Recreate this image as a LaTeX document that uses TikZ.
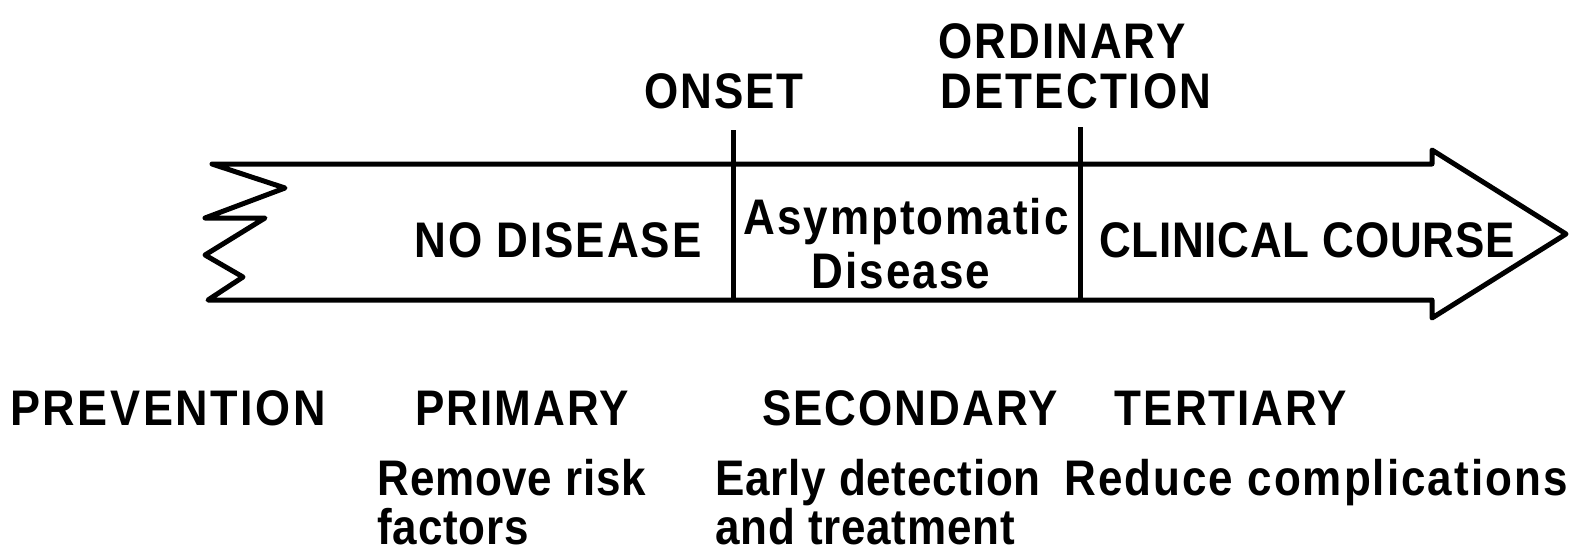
\documentclass[tikz,border=0pt]{standalone}
\usepackage{fontspec}
\newfontfamily\lab{Liberation Sans}[FakeStretch=0.88,LetterSpace=4]
\newfontfamily\labl{Liberation Sans}[FakeStretch=0.88,LetterSpace=1.5]
\newfontfamily\labw{Liberation Sans}[FakeStretch=0.9,LetterSpace=5]
\begin{document}
\begin{tikzpicture}[x=1pt,y=-1pt,line width=5pt,
  lbl/.style={font=\lab\bfseries\fontsize{50}{60}\selectfont,inner sep=0pt,anchor=base},
  lblw/.style={lbl,font=\labl\bfseries\fontsize{50}{60}\selectfont,anchor=base west}]
\useasboundingbox (0,0) rectangle (1572,552);
\fill[white] (0,0) rectangle (1572,552);
% big arrow
\draw[line join=round] (212,164) -- (1432,164) -- (1432,150) -- (1566,234) -- (1432,318) -- (1432,300)
  -- (208,300) -- (243,277) -- (205,255) -- (265,218) -- (205,218) -- (285,188) -- cycle;
\coordinate (onsetT) at (733,130);
\coordinate (onsetB) at (733,300);
\coordinate (detT) at (1080,127);
\coordinate (detB) at (1080,300);
\draw (onsetT) -- (onsetB);
\draw (detT) -- (detB);
% labels
\node[lbl] (onset) at (724,108) {ONSET};
\node[lbl] (ord) at (1062,58) {ORDINARY};
\node[lbl] (det) at (1076,108) {DETECTION};
\node[lbl] (nod) at (558,257) {NO DISEASE};
\node[lbl] (asy) at (906,234) {Asymptomatic};
\node[lbl] (dis) at (901,288) {Disease};
\node[lbl,font=\labl\bfseries\fontsize{50}{60}\selectfont] (clin) at (1307,257) {CLINICAL COURSE};
\node[lbl,font=\labw\bfseries\fontsize{50}{60}\selectfont] (prev) at (168,425) {PREVENTION};
\node[lbl] (prim) at (522,425) {PRIMARY};
\node[lbl] (sec) at (910,425) {SECONDARY};
\node[lbl] (ter) at (1231,425) {TERTIARY};
\node[lblw] (rem) at (375,495) {Remove risk};
\node[lblw,text depth=0pt] (fac) at (375,544) {factors};
\node[lblw] (ear) at (713,495) {Early detection};
\node[lblw,text depth=0pt] (and) at (713,544) {and treatment};
\node[lblw,font=\lab\bfseries\fontsize{50}{60}\selectfont] (red) at (1062,495) {Reduce complications};
\end{tikzpicture}
\end{document}
